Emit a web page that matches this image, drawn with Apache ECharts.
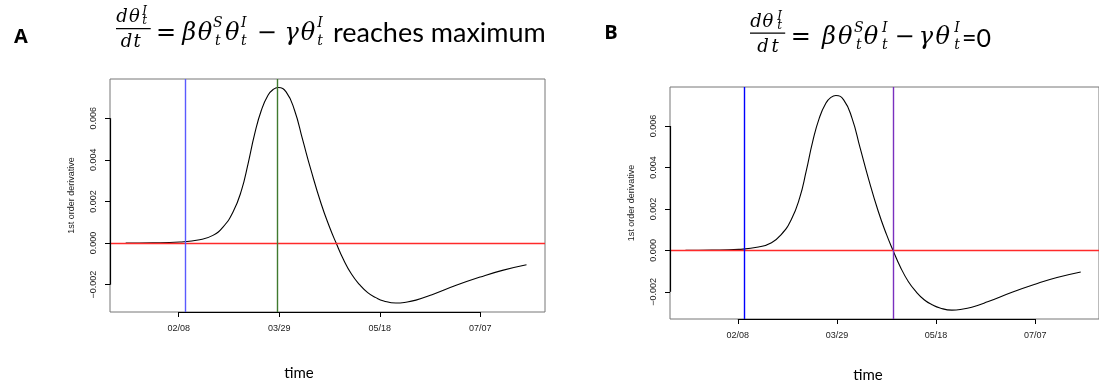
<!DOCTYPE html>
<html>
<head>
<meta charset="utf-8">
<script src="https://cdn.jsdelivr.net/npm/echarts@6/dist/echarts.min.js"></script>
<style>
html,body{margin:0;padding:0;background:#fff;}
#chart{width:1099px;height:386px;}
</style>
</head>
<body>
<div id="chart"></div>
<script>
// ---- data (day index: days since 2020-01-01) ----
const days = [11.6, 25, 38.5, 48.4, 55, 60, 65, 69.2, 72.5, 75.8, 79.1, 82.4, 85, 87.5, 91.4, 95.6, 99.7, 103.8, 108.8, 113, 116.3, 120, 124, 128, 132, 136, 140, 146, 151, 156, 164, 176, 188, 199, 211];
const derivative = [0, 0.00001, 0.00005, 0.00016, 0.00037, 0.00077, 0.00149, 0.00253, 0.00382, 0.00526, 0.00638, 0.0071, 0.00738, 0.00747, 0.00726, 0.00638, 0.00494, 0.0035, 0.0019, 0.00077, 0, -0.0008, -0.0015, -0.002, -0.00238, -0.00262, -0.00278, -0.00288, -0.00284, -0.00274, -0.00248, -0.00203, -0.00163, -0.00131, -0.00104];
const xTickDays = [38, 88, 138, 188];
const xTickLabels = ['02/08', '03/29', '05/18', '07/07'];
const yTicks = [-0.002, 0, 0.002, 0.004, 0.006];
const markerDaysA = [41, 87];      // blue: start, green: maximum
const markerDaysB = [41.2, 116.5]; // blue: start, purple: derivative = 0
const zeroLine = [0];

const xMin = 3.8, xMax = 220.2, yMin = -0.00331, yMax = 0.00788;

const chart = echarts.init(document.getElementById('chart'), null, {renderer: 'canvas'});

const tickFont = {fontFamily: 'Liberation Sans', fontSize: 9, color: '#222'};

function xAxisFor(i) {
  return {
    type: 'value', gridIndex: i, min: xMin, max: xMax,
    axisLine: {show: false, onZero: false},
    splitLine: {show: false},
    axisTick: {show: true, customValues: xTickDays, length: 5, lineStyle: {color: '#000', width: 1}},
    axisLabel: Object.assign({customValues: xTickDays, margin: 12,
      formatter: v => xTickLabels[xTickDays.indexOf(v)] || ''}, tickFont)
  };
}
function yAxisFor(i) {
  return {
    type: 'value', gridIndex: i, min: yMin, max: yMax,
    axisLine: {show: false, onZero: false},
    splitLine: {show: false},
    axisTick: {show: true, customValues: yTicks, length: 5, lineStyle: {color: '#000', width: 1}},
    axisLabel: Object.assign({customValues: yTicks, rotate: 90, margin: 12,
      formatter: v => (v < 0 ? '\u2212' : '') + Math.abs(v).toFixed(3)}, tickFont),
    name: '1st order derivative', nameLocation: 'middle', nameGap: 34,
    nameTextStyle: {fontFamily: 'Liberation Sans', fontSize: 9, color: '#222'}
  };
}

const vColorsA = ['#5a5aff', '#3f7a2e'];
const vColorsB = ['#0000ff', '#7a2fbf'];

function seriesFor(i, markerDays, vColors) {
  const pts = days.map((d, k) => [d, derivative[k]]);
  const vlines = markerDays.map((d, k) => ({xAxis: d, lineStyle: {color: vColors[k], width: 1.4, type: 'solid'}}));
  const hlines = zeroLine.map(v => ({yAxis: v, lineStyle: {color: '#ff2a2a', width: 1.3, type: 'solid'}}));
  const axisSegs = [
    [{coord: [xTickDays[0], yMin]}, {coord: [xTickDays[xTickDays.length - 1], yMin]}],
    [{coord: [xMin, yTicks[0]]}, {coord: [xMin, yTicks[yTicks.length - 1]]}]
  ];
  return [{
    type: 'line', xAxisIndex: i, yAxisIndex: i, data: pts, showSymbol: false, symbol: 'none',
    smooth: 0.5, lineStyle: {color: '#000', width: 1.1}, silent: true,
    markLine: {symbol: 'none', silent: true, label: {show: false}, animation: false,
      data: hlines.concat(vlines)}
  }, {
    type: 'line', xAxisIndex: i, yAxisIndex: i, data: [], silent: true,
    markLine: {symbol: 'none', silent: true, label: {show: false}, animation: false,
      lineStyle: {color: '#000', width: 1.2, type: 'solid'}, data: axisSegs}
  }];
}

// ---- formula text ----
const mathFam = 'DejaVu Serif';
function glyph(t, cx, cy, size, italic) {
  return {type: 'text', x: cx, y: cy, silent: true,
    style: {text: t, fill: '#000', align: 'center', verticalAlign: 'middle',
      font: (italic ? 'italic ' : '') + size + 'px "' + mathFam + '"'}};
}
function formula(dx, dy, xs) {
  const M = 24, S = 14, F = 18, FS = 12;
  const g = [];
  g.push(glyph('d', xs.nd + dx, 17.5 + dy, F, true));
  g.push(glyph('\u03b8', xs.nth + dx, 17.5 + dy, F, true));
  g.push(glyph('I', xs.ns + dx, 12 + dy, FS, true));
  g.push(glyph('t', xs.ns + dx, 21 + dy, FS, true));
  g.push({type: 'line', silent: true, shape: {x1: xs.b1 + dx, y1: 28.6 + dy, x2: xs.b2 + dx, y2: 28.6 + dy},
    style: {stroke: '#000', lineWidth: 1.2}});
  g.push(glyph('d', xs.dd + dx, 42.5 + dy, F, true));
  g.push(glyph('t', xs.dt + dx, 42.5 + dy, F, true));
  g.push(glyph('=', xs.eq + dx, 33.5 + dy, M, false));
  g.push(glyph('\u03b2', xs.beta + dx, 33.5 + dy, M, true));
  g.push(glyph('\u03b8', xs.th1 + dx, 33.5 + dy, M, true));
  g.push(glyph('S', xs.s1 + dx, 23.5 + dy, S, true));
  g.push(glyph('t', xs.s1 + dx, 41 + dy, S, true));
  g.push(glyph('\u03b8', xs.th2 + dx, 33.5 + dy, M, true));
  g.push(glyph('I', xs.s2 + dx, 23.5 + dy, S, true));
  g.push(glyph('t', xs.s2 + dx, 41 + dy, S, true));
  g.push(glyph('\u2212', xs.minus + dx, 33.5 + dy, M, false));
  g.push(glyph('\u03b3', xs.gam + dx, 33.5 + dy, M, true));
  g.push(glyph('\u03b8', xs.th3 + dx, 33.5 + dy, M, true));
  g.push(glyph('I', xs.s3 + dx, 23.5 + dy, S, true));
  g.push(glyph('t', xs.s3 + dx, 41 + dy, S, true));
  return g;
}
const graphics = [].concat(
  formula(0, 0, {nd: 122, nth: 134.5, ns: 144.6, b1: 116, b2: 150.7, dd: 126.5, dt: 137,
    eq: 166, beta: 189.3, th1: 205, s1: 217.9, th2: 232.1, s2: 243.8, minus: 266.9, gam: 291.6, th3: 308, s3: 320}),
  formula(0, 4.6, {nd: 756, nth: 768, ns: 779.7, b1: 750, b2: 785.2, dd: 763, dt: 775,
    eq: 800.7, beta: 829, th1: 845.3, s1: 858.8, th2: 871, s2: 884.8, minus: 904.6, gam: 926, th3: 942.7, s3: 957}),
  [
    {type: 'text', x: 333, y: 33, silent: true, style: {text: 'reaches maximum', fill: '#000', align: 'left', verticalAlign: 'middle', font: '27px Lato'}},
    {type: 'text', x: 962, y: 38.5, silent: true, style: {text: '=0', fill: '#000', align: 'left', verticalAlign: 'middle', font: '25px Lato'}},
    {type: 'text', x: 21, y: 37, silent: true, style: {text: 'A', fill: '#000', align: 'center', verticalAlign: 'middle', font: 'bold 20px "Open Sans"'}},
    {type: 'text', x: 611, y: 33, silent: true, style: {text: 'B', fill: '#000', align: 'center', verticalAlign: 'middle', font: 'bold 20px "Open Sans"'}},
    {type: 'text', x: 299, y: 373.5, silent: true, style: {text: 'time', fill: '#000', align: 'center', verticalAlign: 'middle', font: '15px Lato'}},
    {type: 'text', x: 868, y: 375.5, silent: true, style: {text: 'time', fill: '#000', align: 'center', verticalAlign: 'middle', font: '15px Lato'}}
  ]
);

chart.setOption({
  animation: false,
  backgroundColor: '#fff',
  grid: [
    {left: 110, top: 79, width: 435, height: 233, show: true, borderColor: '#777', borderWidth: 1, backgroundColor: 'transparent'},
    {left: 670, top: 87, width: 435, height: 232, show: true, borderColor: '#777', borderWidth: 1, backgroundColor: 'transparent'}
  ],
  xAxis: [xAxisFor(0), xAxisFor(1)],
  yAxis: [yAxisFor(0), yAxisFor(1)],
  series: seriesFor(0, markerDaysA, vColorsA).concat(seriesFor(1, markerDaysB, vColorsB)),
  graphic: graphics
});
</script>
</body>
</html>
